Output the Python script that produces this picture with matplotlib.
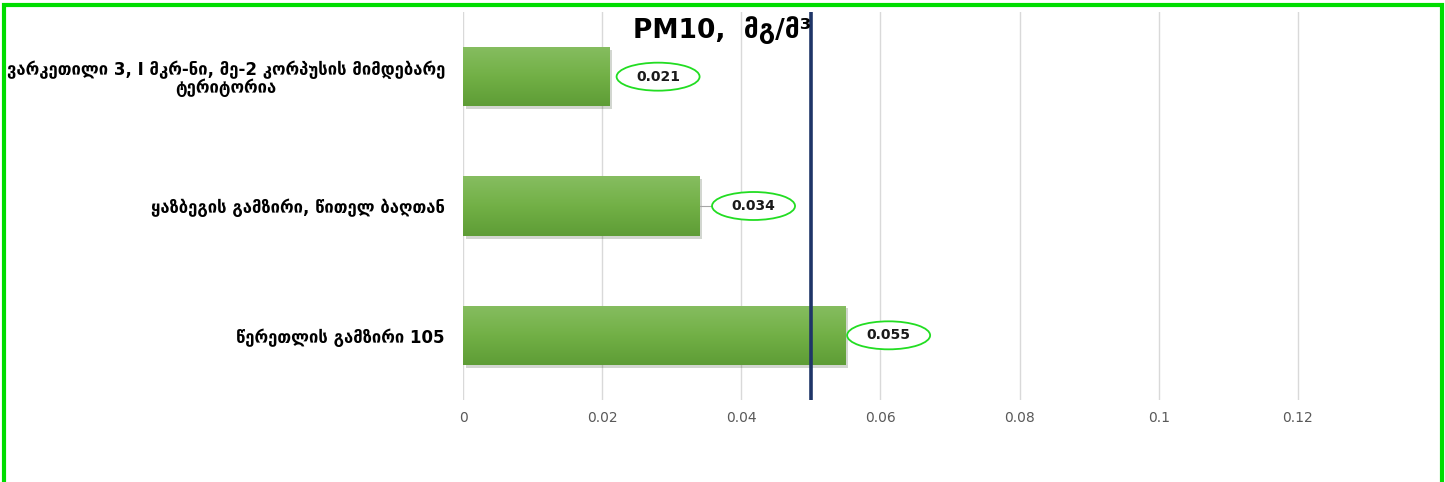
"""PM10 concentration bar chart."""

import numpy as np
import matplotlib

matplotlib.use('Agg')
from matplotlib import pyplot as plt  # noqa: E402
from matplotlib import patheffects  # noqa: E402
from matplotlib.colors import LinearSegmentedColormap  # noqa: E402
from matplotlib.patches import Ellipse, Rectangle  # noqa: E402
from matplotlib.transforms import ScaledTranslation  # noqa: E402

plt.rcParams['font.family'] = ['DejaVu Sans']

locations = [
    'ვარკეთილი 3, I მკრ-ნი, მე-2 კორპუსის მიმდებარე\nტერიტორია',
    'ყაზბეგის გამზირი, წითელ ბაღთან',
    'წერეთლის გამზირი 105',
]
pm10 = [0.021, 0.034, 0.055]
limit_value = 0.05
x_ticks = [0, 0.02, 0.04, 0.06, 0.08, 0.1, 0.12]
x_tick_labels = ['0', '0.02', '0.04', '0.06', '0.08', '0.1', '0.12']

# label bubble offsets from bar end, inches (placed by hand in the original)
label_offsets = [0.49, 0.54, 0.43]

fig = plt.figure(figsize=(14.45, 4.82), dpi=100)
ax = fig.add_axes([463 / 1445, 82 / 482, (1430 - 463) / 1445, 388 / 482])

positions = np.arange(len(locations))
bars = ax.barh(positions, pm10, height=0.46, color='#70ad47', zorder=2)

# vertical gradient on the bars, with a soft shadow
green = LinearSegmentedColormap.from_list('g', ['#86bd60', '#72b046', '#5e9d36'])
grad = np.linspace(0, 1, 64).reshape(-1, 1)
for bar in bars:
    bar.set_path_effects([patheffects.SimplePatchShadow(offset=(2, -2), alpha=0.2),
                          patheffects.Normal()])
    x0, y0 = bar.get_x(), bar.get_y()
    w, h = bar.get_width(), bar.get_height()
    img = ax.imshow(grad, cmap=green, aspect='auto', extent=(x0, x0 + w, y0 + h, y0),
                    zorder=2.1, interpolation='bilinear')
    img.set_clip_path(bar)

ax.set_xlim(0, 0.139)
ax.set_ylim(len(locations) - 0.5, -0.5)

ax.axvline(limit_value, color='#1f3568', lw=2.6, zorder=4)

ell_w, ell_h = 0.83, 0.28
for pos, value, off in zip(positions, pm10, label_offsets):
    tr = fig.dpi_scale_trans + ScaledTranslation(value, pos, ax.transData)
    gap = off - ell_w / 2
    if gap > 0.1:
        ax.plot([0, gap], [0, 0], color='#a6a6a6', lw=0.8, transform=tr, zorder=5)
    ax.add_patch(Ellipse((off, 0), ell_w, ell_h, transform=tr, fc='white',
                         ec='#22dd22', lw=1.3, zorder=5))
    ax.text(off, 0, f'{value:.3f}', transform=tr, ha='center', va='center',
            fontsize=10, fontweight='bold', color='#1a1a1a', zorder=6)

ax.set_yticks(positions)
ax.set_yticklabels(locations, fontsize=12, fontweight='bold', multialignment='center',
                   linespacing=1.0)
ax.set_xticks(x_ticks)
ax.set_xticklabels(x_tick_labels, fontsize=10, color='#595959')
ax.tick_params(axis='y', length=0, pad=13)
ax.tick_params(axis='x', length=0, pad=8)
ax.grid(True, axis='x', color='#d9d9d9', lw=1, zorder=0)
for spine in ax.spines.values():
    spine.set_visible(False)

fig.text(0.5, 1 - 30 / 482, 'PM10,  მგ/მ³', ha='center', va='center',
         fontsize=19, fontweight='bold')

fig.patches.append(Rectangle((4 / 1445, -0.05), 1438 / 1445, 1.05 - 4.5 / 482,
                             transform=fig.transFigure, fill=False, ec='#00dd00', lw=3))

fig.savefig('out.png', dpi=100)
plt.close(fig)
